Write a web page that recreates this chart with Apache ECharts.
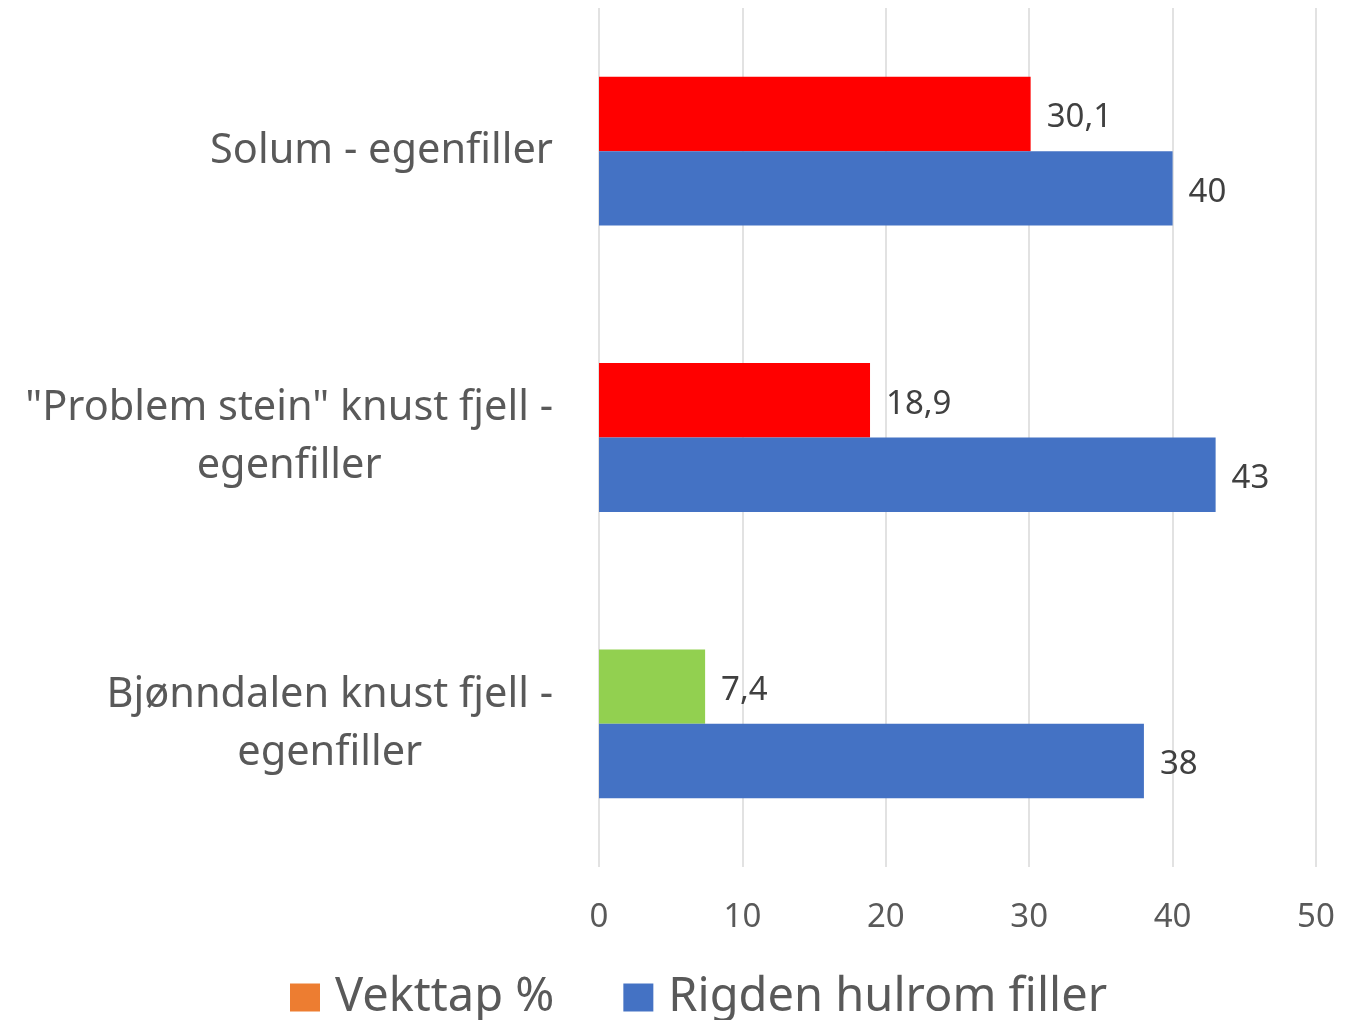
<!DOCTYPE html>
<html>
<head>
<meta charset="utf-8">
<script src="https://cdn.jsdelivr.net/npm/echarts@6/dist/echarts.min.js"></script>
<style>
html,body{margin:0;padding:0;background:#fff;}
#chart{width:1363px;height:1020px;}
</style>
</head>
<body>
<div id="chart"></div>
<script>
const categories = ['Solum - egenfiller', '"Problem stein" knust fjell -\negenfiller', 'Bjønndalen knust fjell -\negenfiller'];
const seriesNames = ['Vekttap %', 'Rigden hulrom filler'];
const vekttap = [30.1, 18.9, 7.4];
const rigden = [40, 43, 38];
const vekttapColors = ['#FF0000', '#FF0000', '#92D050'];
const xTicks = [0, 10, 20, 30, 40, 50];

const FONT = '"Noto Sans", sans-serif';
const fmt = v => String(v).replace('.', ',');

const chart = echarts.init(document.getElementById('chart'), null, {renderer: 'canvas'});
chart.setOption({
  backgroundColor: '#ffffff',
  animation: false,
  grid: {left: 599, right: 47, top: 8, bottom: 153, containLabel: false},
  legend: {
    left: 290, top: 974, padding: 0,
    itemWidth: 30, itemHeight: 28, itemGap: 69,
    icon: 'rect',
    textStyle: {fontFamily: FONT, fontSize: 47, color: '#595959', padding: [0, 0, 0, 10]},
    data: seriesNames
  },
  xAxis: {
    type: 'value', min: xTicks[0], max: xTicks[xTicks.length - 1], interval: 10,
    axisLine: {show: false}, axisTick: {show: false},
    splitLine: {lineStyle: {color: '#D9D9D9', width: 1.5}},
    axisLabel: {fontFamily: FONT, fontSize: 33, color: '#595959', margin: 34}
  },
  yAxis: {
    type: 'category', inverse: true, data: categories,
    axisLine: {show: false}, axisTick: {show: false},
    axisLabel: {
      margin: 46,
      formatter: v => v.split('\n').map(s => '{c|' + s + '}').join('\n'),
      rich: {c: {align: 'center', fontFamily: FONT, fontSize: 41.5, color: '#595959', lineHeight: 58}}
    }
  },
  series: [
    {
      name: seriesNames[0], type: 'bar', color: '#ED7D31',
      barGap: '0%', barCategoryGap: '48%',
      data: vekttap.map((v, i) => ({value: v, itemStyle: {color: vekttapColors[i]}})),
      label: {show: true, position: 'right', distance: 16, offset: [0, 4], fontFamily: FONT, fontSize: 33, color: '#404040', formatter: p => fmt(p.value)}
    },
    {
      name: seriesNames[1], type: 'bar', color: '#4472C4',
      barGap: '0%', barCategoryGap: '48%',
      data: rigden,
      label: {show: true, position: 'right', distance: 16, offset: [0, 4], fontFamily: FONT, fontSize: 33, color: '#404040', formatter: p => fmt(p.value)}
    }
  ]
});
</script>
</body>
</html>
